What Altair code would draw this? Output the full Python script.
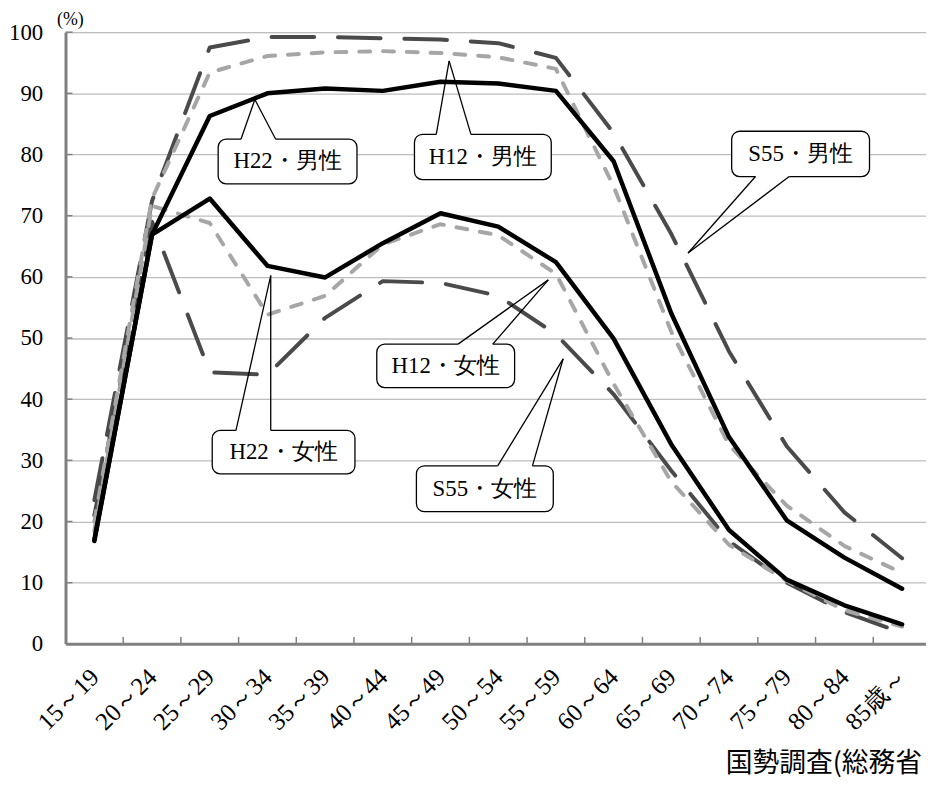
import json
import altair as alt
import pandas as pd

# ---------------- data ----------------
categories = ["15～19", "20～24", "25～29", "30～34", "35～39", "40～44", "45～49",
              "50～54", "55～59", "60～64", "65～69", "70～74", "75～79", "80～84", "85歳～"]

h22_male = [17.0, 66.9, 86.3, 90.0, 90.8, 90.4, 91.9, 91.6, 90.4, 78.9, 54.0, 33.8, 20.2, 14.1, 9.0]
h22_female = [16.8, 66.9, 72.8, 61.8, 59.9, 65.5, 70.4, 68.2, 62.4, 49.9, 32.6, 18.6, 10.5, 6.3, 3.2]
h12_male = [20.0, 72.8, 93.4, 96.1, 96.7, 96.9, 96.6, 95.9, 94.0, 74.8, 51.0, 32.5, 22.6, 16.0, 11.6]
h12_female = [18.5, 71.6, 68.8, 53.8, 56.9, 65.3, 68.6, 66.8, 60.5, 42.5, 26.5, 16.2, 10.3, 5.5, 2.8]
s55_male = [23.5, 72.4, 97.5, 99.2, 99.2, 99.0, 98.8, 98.2, 95.8, 83.5, 67.0, 47.8, 32.3, 21.5, 14.0]
s55_female = [21.0, 69.0, 44.4, 44.0, 53.3, 59.3, 59.0, 56.9, 50.6, 40.8, 28.3, 16.8, 10.0, 5.2, 1.8]

series_names = ["S55・男性", "S55・女性", "H12・男性", "H12・女性", "H22・男性", "H22・女性"]
series_values = [s55_male, s55_female, h12_male, h12_female, h22_male, h22_female]

y_ticks = [0, 10, 20, 30, 40, 50, 60, 70, 80, 90, 100]

# callout boxes (in data units: x = category index scale, y = percent)
callout_labels = ["H22・男性", "H12・男性", "S55・男性", "H22・女性", "H12・女性", "S55・女性"]
box_x1 = [2.646, 6.048, 11.546, 2.543, 5.395, 6.082]
box_x2 = [5.052, 8.419, 13.935, 5.017, 7.784, 8.454]
box_ylo = [75.2, 75.9, 76.4, 27.8, 41.9, 21.6]
box_yhi = [82.5, 83.3, 83.8, 34.9, 49.0, 29.1]
ptr_base_y = [82.5, 83.3, 76.4, 34.9, 49.0, 29.1]
ptr_x1 = [3.041, 6.426, 11.959, 2.955, 6.804, 7.491]
ptr_x2 = [3.643, 7.027, 12.543, 3.557, 7.405, 8.093]
tip_x = [3.282, 6.649, 10.790, 3.557, 8.368, 8.625]
tip_y = [89.0, 95.3, 63.9, 60.2, 59.5, 46.6]

source_text = "国勢調査(総務省"

# ---------------- styling ----------------
SERIF = "Liberation Serif"
W, H = 868, 617
styles = {
    "S55": dict(color="#4a4a4a", strokeWidth=4, strokeDash=[43, 24]),
    "H12": dict(color="#a6a6a6", strokeWidth=4, strokeDash=[11, 13]),
    "H22": dict(color="#000000", strokeWidth=4.5),
}

xs = alt.Scale(domain=[0, 14.914], nice=False, zero=False)
ys = alt.Scale(domain=[0, 100], nice=False, zero=True)

label_expr = "%s[floor(datum.value)]" % json.dumps(categories, ensure_ascii=False)
xaxis = alt.Axis(values=[i + 0.5 for i in range(len(categories))], labelExpr=label_expr,
                 labelAngle=-45, labelAlign="right", labelBaseline="middle",
                 labelPadding=29, ticks=False, tickSize=0, grid=False,
                 domainColor="#808080", domainWidth=3,
                 labelFontSize=25, title=None, labelOverlap=False)
yaxis = alt.Axis(values=y_ticks, grid=True, gridColor="#bdbdbd", gridWidth=1.3,
                 domainColor="#808080", domainWidth=3, ticks=False, tickSize=0,
                 labelPadding=23, labelFontSize=23,
                 title="(%)", titleAngle=0, titleX=-9, titleY=-13, titleAlign="left",
                 titleBaseline="middle", titleFontSize=18)


def X(field):
    return alt.X(field, type="quantitative", scale=xs, axis=xaxis)


def Y(field):
    return alt.Y(field, type="quantitative", scale=ys, axis=yaxis)


layers = []

# series lines
for name, vals in zip(series_names, series_values):
    df = pd.DataFrame({"pos": [i + 0.5 for i in range(len(categories))],
                       "value": vals, "series": name})
    st = styles[name[:3]]
    layers.append(alt.Chart(df).mark_line(strokeCap="round", strokeJoin="round", **st)
                  .encode(x=X("pos"), y=Y("value")))

# inward ticks on the x axis (category boundaries)
xt = pd.DataFrame({"b": list(range(1, len(categories)))})
layers.append(alt.Chart(xt).mark_rule(color="#808080", strokeWidth=1.5).encode(
    x=X("b"), y=alt.value(H), y2=alt.value(H - 7)))

# inward ticks on the y axis
yt = pd.DataFrame({"v": y_ticks[1:]})
layers.append(alt.Chart(yt).mark_rule(color="#808080", strokeWidth=1.5).encode(
    y=Y("v"), x=alt.value(0), x2=alt.value(7)))

# callouts
cd = pd.DataFrame({"label": callout_labels, "x1": box_x1, "x2": box_x2,
                   "ylo": box_ylo, "yhi": box_yhi, "by": ptr_base_y,
                   "px1": ptr_x1, "px2": ptr_x2, "tx": tip_x, "ty": tip_y})
cd["cx"] = (cd["x1"] + cd["x2"]) / 2
cd["cy"] = (cd["ylo"] + cd["yhi"]) / 2

layers.append(alt.Chart(cd).mark_rect(fill="white", stroke="black", strokeWidth=1.3,
                                      cornerRadius=8).encode(
    x=X("x1"), x2="x2", y=Y("ylo"), y2="yhi"))
layers.append(alt.Chart(cd).mark_rule(color="white", strokeWidth=3).encode(
    x=X("px1"), x2="px2", y=Y("by")))
layers.append(alt.Chart(cd).mark_rule(color="black", strokeWidth=1.3).encode(
    x=X("px1"), x2="tx", y=Y("by"), y2="ty"))
layers.append(alt.Chart(cd).mark_rule(color="black", strokeWidth=1.3).encode(
    x=X("px2"), x2="tx", y=Y("by"), y2="ty"))
layers.append(alt.Chart(cd).mark_text(font=SERIF, fontSize=23, color="black",
                                      align="center", baseline="middle").encode(
    x=X("cx"), y=Y("cy"), text="label:N"))

# source note
sd = pd.DataFrame({"t": [source_text]})
layers.append(alt.Chart(sd).mark_text(font="Noto Sans CJK JP", fontSize=27, color="black",
                                      align="left", baseline="middle").encode(
    x=alt.value(666), y=alt.value(738), text="t:N"))

chart = alt.layer(*layers).properties(
    width=W, height=H,
    autosize=alt.AutoSizeParams(type="none"),
    padding={"left": 58, "top": 21, "right": 0, "bottom": 137},
).configure_view(stroke=None).configure(background="white").configure_axis(
    labelFont=SERIF, titleFont=SERIF, labelColor="#000000", titleColor="#000000",
    titleFontWeight="normal")

chart.save("out.html", embed_options={"renderer": "svg", "actions": False})
